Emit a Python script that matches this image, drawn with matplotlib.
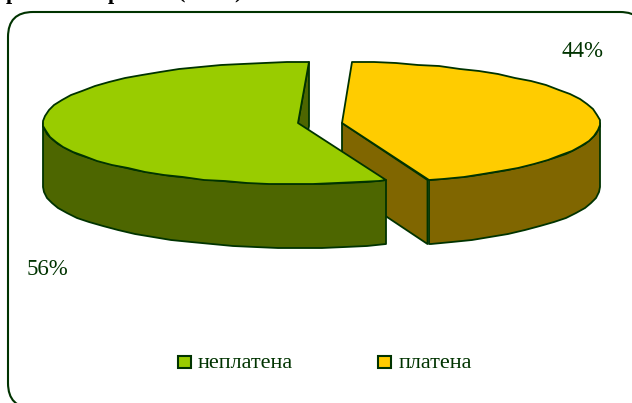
import numpy as np
import matplotlib
matplotlib.use("Agg")
import matplotlib.pyplot as plt
from matplotlib.patches import Polygon, FancyBboxPatch, Rectangle

categories = ["неплатена", "платена"]
values = [56, 44]
labels = ["56%", "44%"]
face = ["#99CC00", "#FFCC00"]
wall = ["#4D6600", "#806600"]
INK = "#003300"

plt.rcParams["font.family"] = ["Liberation Serif", "DejaVu Serif"]
fig = plt.figure(figsize=(6.32, 4.03), dpi=100)
ax = fig.add_axes([0, 0, 1, 1])
ax.set_xlim(0, 632); ax.set_ylim(403, 0); ax.axis("off")

ax.add_patch(FancyBboxPatch((33, 37), 587, 346, boxstyle="round,pad=25,rounding_size=25",
                            fc="white", ec=INK, lw=1.5, zorder=0))

# remnants of the heading cut off by the top edge of the picture
for s, x in zip(["р", "р", "(", ")"], [6, 108, 178, 234]):
    ax.text(x, -1.5, s, color="black", fontsize=16, fontweight="bold", va="baseline", zorder=9)

RY, DEPTH, CY = 61, 64, 123
START = 88.0

def rim(cx, rx, a0, a1):
    steps = np.arange(a0, a1, np.sign(a1 - a0) * 5.0).tolist() + [a1]
    t = np.radians(steps)
    return np.round(np.c_[cx + rx * np.cos(t), CY - RY * np.sin(t)])

def poly(pts, fc, z):
    ax.add_patch(Polygon(pts, closed=True, fc=fc, ec=INK, lw=1.3, joinstyle="round", zorder=z))

sweep = [v / sum(values) * 360 for v in values]
down = np.array([0, DEPTH])

# yellow slice: clockwise from the start angle
y_rim = rim(343, 257, START, START - sweep[1])
apex = np.array([342.0, CY])
end = y_rim[-1]
poly(np.array([apex, apex + down, end + down - [1.5, 0], end - [1.5, 0]]), wall[1], 2)
front = rim(343, 257, 0, START - sweep[1])
poly(np.vstack([front, (front + down)[::-1]]), wall[1], 2)
poly(np.vstack([apex, y_rim]), face[1], 3)

# green slice: counter-clockwise from the start angle
g_rim = rim(300, 257, START, START + sweep[0])
apex = np.array([298.0, CY])
first = g_rim[0]
poly(np.array([apex, apex + down, first + down, first]), wall[0], 4)
front = rim(300, 257, 180, START + sweep[0])
poly(np.vstack([front, (front + down)[::-1]]), wall[0], 5)
poly(np.vstack([apex, g_rim]), face[0], 6)

ax.text(27, 275, labels[0], color=INK, fontsize=16.5, ha="left", va="baseline", zorder=8)
ax.text(561, 57, labels[1], color=INK, fontsize=16.5, ha="left", va="baseline", zorder=8)

for name, c, bx, tx in zip(categories, face, [177.5, 378], [198, 399]):
    ax.add_patch(Rectangle((bx, 356), 13, 11.5, fc=c, ec=INK, lw=1.5, zorder=8))
    ax.text(tx, 368, name, color=INK, fontsize=16, ha="left", va="baseline", zorder=8)

fig.savefig("out.png", dpi=100)
